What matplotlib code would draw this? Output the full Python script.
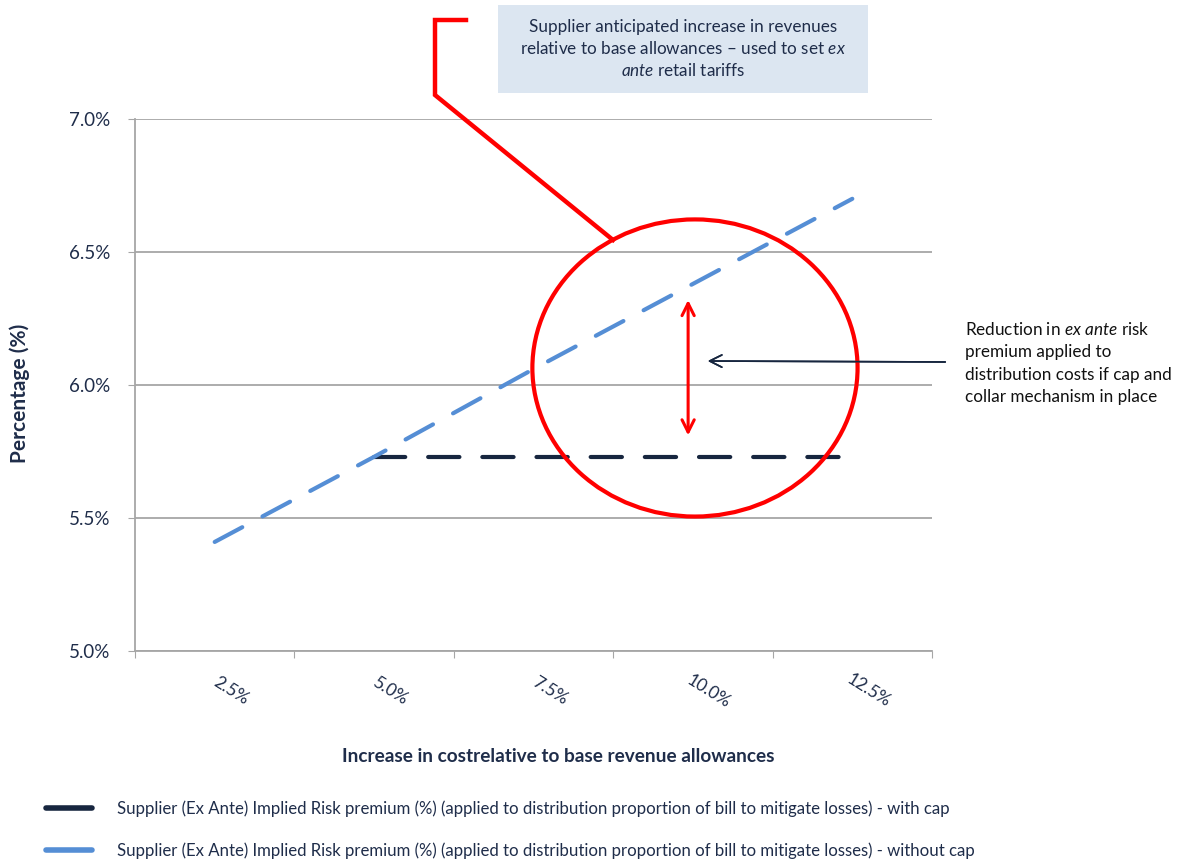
import matplotlib.pyplot as plt
from matplotlib.patches import Ellipse, Rectangle
from matplotlib.lines import Line2D
from matplotlib.transforms import ScaledTranslation

plt.rcParams['font.family'] = ['Lato', 'DejaVu Sans']
plt.rcParams['mathtext.fontset'] = 'custom'
plt.rcParams['mathtext.rm'] = 'Lato'
plt.rcParams['mathtext.it'] = 'Lato:italic'

categories = ['2.5%', '5.0%', '7.5%', '10.0%', '12.5%']
with_cap = [5.41, 5.73, 5.73, 5.73, 5.73]
without_cap = [5.41, 5.73, 6.06, 6.38, 6.70]
y_ticks = [5.0, 5.5, 6.0, 6.5, 7.0]

label_with = ('Supplier (Ex Ante) Implied Risk premium (%) (applied to distribution '
              'proportion of bill to mitigate losses) - with cap')
label_without = ('Supplier (Ex Ante) Implied Risk premium (%) (applied to distribution '
                 'proportion of bill to mitigate losses) - without cap')

navy = '#17263F'
blue = '#558ED5'
txt = '#1F2D4A'
grid = '#A6A6A6'

W, H = 1183, 859
fig = plt.figure(figsize=(W / 100, H / 100), dpi=100)
ax = fig.add_axes([135 / W, 1 - 651 / H, (932 - 135) / W, (651 - 119) / H])


def fx(px):
    return px / W


def fy(py):
    return 1 - py / H


x = list(range(len(categories)))
ax.plot(x[1:], with_cap[1:], color=navy, lw=3, dashes=(7.5, 5.5),
        dash_capstyle='round', zorder=3)
ax.plot(x, without_cap, color=blue, lw=3, dashes=(7.5, 5.5),
        dash_capstyle='round', zorder=4)

ax.set_xlim(-0.5, 4.5)
ax.set_ylim(5.0, 7.0)
ax.set_yticks(y_ticks)
ax.set_yticklabels([f'{v:.1f}%' for v in y_ticks], color=txt, fontsize=13.5)
ax.set_xticks([i + 0.5 for i in range(-1, 5)], minor=False)
ax.set_xticklabels([])
ax.set_xticks(x, minor=True)
ax.set_xticklabels(categories, minor=True, rotation=-32, ha='center',
                   va='center', rotation_mode='anchor', color=txt, fontsize=12.5)
ax.tick_params(axis='x', which='minor', length=0, pad=0)
ax.tick_params(axis='x', which='major', length=5, color=grid, direction='out')
ax.tick_params(axis='y', length=5, color=grid, direction='out', pad=13)
shift = ScaledTranslation(16 / 100, -40 / 100, fig.dpi_scale_trans)
for t in ax.get_xticklabels(minor=True):
    t.set_transform(t.get_transform() + shift)

ax.yaxis.grid(True, color=grid, lw=1.3)
ax.set_axisbelow(True)
for s in ['top', 'right']:
    ax.spines[s].set_visible(False)
for s in ['left', 'bottom']:
    ax.spines[s].set_color(grid)
    ax.spines[s].set_linewidth(1.3)

fig.text(fx(20), fy(393), 'Percentage (%)', rotation=90, ha='center',
         va='center', color=txt, fontsize=15, fontweight='bold')
fig.text(fx(558), fy(756), 'Increase in costrelative to base revenue allowances',
         ha='center', va='center', color=txt, fontsize=13.7, fontweight='bold')

# red highlight ellipse and double arrow
ax.add_patch(Ellipse((3.013, 6.064), 2.04, 1.117, fill=False, ec='red',
                     lw=3, zorder=5, clip_on=False))
ax.annotate('', xy=(2.97, 6.33), xytext=(2.97, 5.80),
            arrowprops=dict(arrowstyle='<->', color='red', lw=2.2,
                            mutation_scale=22), zorder=6)

# callout line to the note box
fig.add_artist(Line2D([fx(613), fx(435), fx(435), fx(466)],
                      [fy(240), fy(95), fy(20), fy(20)], color='red', lw=3.2,
                      transform=fig.transFigure, solid_joinstyle='miter'))
fig.add_artist(Rectangle((fx(498), fy(93)), fx(868 - 498), (93 - 5) / H,
                         transform=fig.transFigure, fc='#DCE6F1', ec='none'))
fig.text(fx(683), fy(49),
         'Supplier anticipated increase in revenues\n'
         'relative to base allowances \u2013 used to set $\\it{ex}$\n'
         '$\\it{ante}$ retail tariffs',
         ha='center', va='center', multialignment='center', color=txt,
         fontsize=12.3, linespacing=1.35)

# black arrow to the reduction note
fig.add_artist(plt.annotate('', xy=(fx(705), fy(361)), xytext=(fx(948), fy(362)),
                            xycoords='figure fraction', textcoords='figure fraction',
                            arrowprops=dict(arrowstyle='->', color=navy, lw=1.2,
                                            mutation_scale=22)))
fig.text(fx(965), fy(363),
         'Reduction in $\\it{ex\\ ante}$ risk\npremium applied to\n'
         'distribution costs if cap and\ncollar mechanism in place',
         ha='left', va='center', color='#111111', fontsize=12.3, linespacing=1.5)

handles = [Line2D([], [], color=navy, lw=4, solid_capstyle='round'),
           Line2D([], [], color=blue, lw=4, solid_capstyle='round')]
fig.legend(handles, [label_with, label_without], loc='upper left',
           bbox_to_anchor=(fx(31), fy(785)), frameon=False, handlelength=2.7,
           handletextpad=1.5, labelspacing=1.55, fontsize=12.1, labelcolor=txt)

fig.savefig('out.png', dpi=100)
